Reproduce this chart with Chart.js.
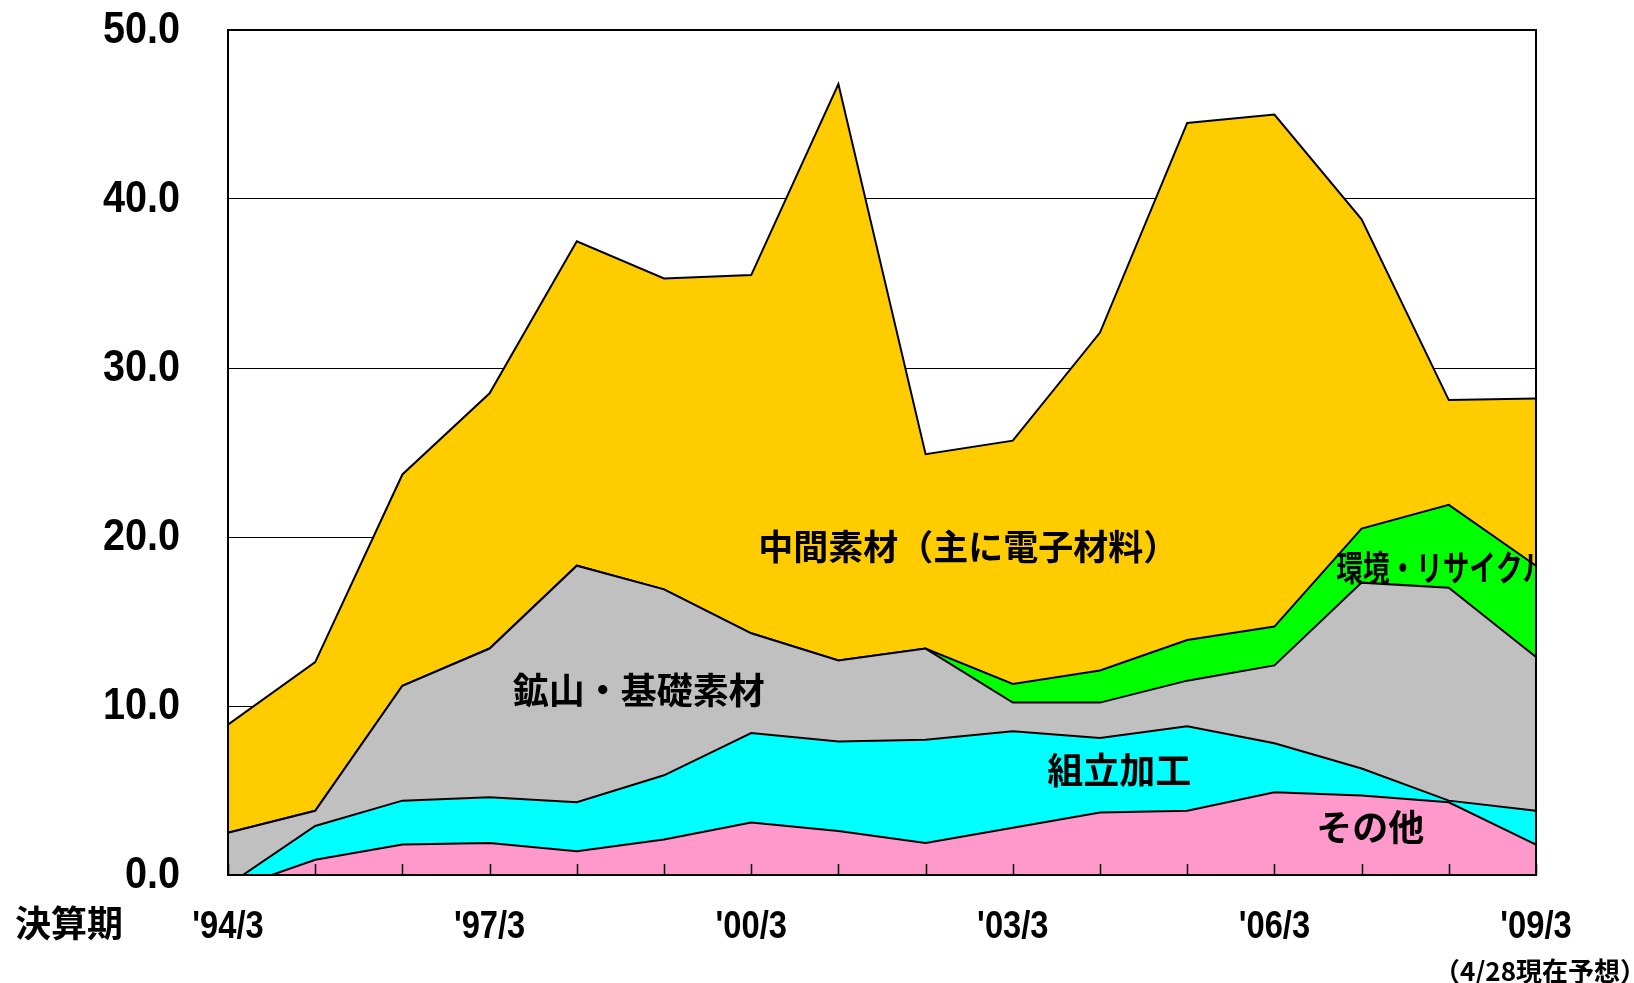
<!DOCTYPE html>
<html lang="ja">
<head>
<meta charset="utf-8">
<title>決算期別推移</title>
<script src="https://cdn.jsdelivr.net/npm/chart.js@4.4.1/dist/chart.umd.min.js"></script>
<style>
html,body{margin:0;padding:0;background:#fff;}
#wrap{width:1634px;height:983px;}
</style>
</head>
<body>
<div id="wrap"><canvas id="c" width="1634" height="983"></canvas></div>
<script>
// 決算期 ('94/3 .. '09/3), only every third one is labelled
const periods=["'94/3","'95/3","'96/3","'97/3","'98/3","'99/3","'00/3","'01/3","'02/3","'03/3","'04/3","'05/3","'06/3","'07/3","'08/3","'09/3"];
const yTicks=[0,10,20,30,40,50];

// series, stacked bottom to top
const other   =[-0.9,0.9,1.8,1.9,1.4,2.1,3.1,2.6,1.9,2.8,3.7,3.8,4.9,4.7,4.3,1.8];   // その他
const assembly=[0.3,2.0,2.6,2.7,2.9,3.8,5.3,5.3,6.1,5.7,4.4,5.0,2.9,1.6,0.1,2.0];     // 組立加工
const mining  =[3.1,0.9,6.8,8.8,14.0,11.0,5.9,4.8,5.4,1.7,2.1,2.7,4.6,11.0,12.6,9.1]; // 鉱山・基礎素材
const recycle =[0,0,0,0,0,0,0,0,0,1.1,1.9,2.4,2.3,3.2,4.9,5.4];                     // 環境・リサイクル
const interm  =[6.4,8.8,12.5,15.1,19.2,18.4,21.2,34.1,11.5,14.4,20.0,30.6,30.3,18.3,6.2,9.9]; // 中間素材

const NUM="'Liberation Sans',Arial,sans-serif";
const JP="'Noto Sans CJK JP','Noto Sans JP',sans-serif";

function ds(label,data,color,fill){
  return {label,data,backgroundColor:color,borderColor:'#000',borderWidth:2,fill,
    pointRadius:0,tension:0};
}

// narrow bold numerals like the original
function narrowText(ctx,t,px,py,align,size,sx){
  ctx.save();
  ctx.font=`bold ${size}px ${NUM}`;ctx.textAlign=align;ctx.textBaseline='middle';
  ctx.translate(px,py);ctx.scale(sx,1);ctx.fillText(t,0,0);
  ctx.restore();
}

const overlay={
  id:'overlay',
  afterDatasetsDraw(chart){
    const {ctx,chartArea:a,scales:{x,y}}=chart;
    ctx.save();
    // tick marks inside the plot
    ctx.strokeStyle='#000';ctx.lineWidth=1.5;
    ctx.beginPath();
    periods.forEach((p,i)=>{const px=Math.round(x.getPixelForValue(i))+0.5;ctx.moveTo(px,a.bottom);ctx.lineTo(px,a.bottom-11);});
    ctx.stroke();
    ctx.lineWidth=2;
    ctx.strokeRect(a.left,a.top,a.width,a.height);
    // area names
    ctx.beginPath();ctx.rect(a.left,a.top,a.width,a.height);ctx.clip();
    ctx.fillStyle='#000';ctx.textBaseline='middle';ctx.textAlign='center';
    const put=(t,i,v,size)=>{ctx.font=`bold ${size}px ${JP}`;ctx.fillText(t,x.getPixelForValue(i),y.getPixelForValue(v));};
    put('中間素材（主に電子材料）',8.49,19.4,35);
    put('鉱山・基礎素材',4.71,10.9,36);
    put('組立加工',10.22,6.2,36);
    put('その他',13.1,2.8,36);
    ctx.font=`bold 35px ${JP}`;ctx.textAlign='left';
    ctx.translate(x.getPixelForValue(12.71),y.getPixelForValue(18.2));
    ctx.scale(0.76,1);
    ctx.fillText('環境・リサイクル',0,0);
    ctx.restore();
  },
  afterDraw(chart){
    const {ctx,scales:{x,y}}=chart;
    ctx.save();
    ctx.fillStyle='#000';
    yTicks.forEach(v=>narrowText(ctx,v.toFixed(1),180,y.getPixelForValue(v)+1,'right',44,0.9));
    periods.forEach((p,i)=>{if(i%3===0)narrowText(ctx,p,x.getPixelForValue(i),928,'center',38,0.86);});
    ctx.textBaseline='middle';ctx.textAlign='center';
    ctx.font=`bold 36px ${JP}`;
    ctx.fillText('決算期',69,923);
    ctx.font=`bold 26px ${JP}`;ctx.textAlign='right';
    ctx.fillText('（4/28現在予想）',1646,971);
    ctx.restore();
  }
};

new Chart(document.getElementById('c'),{
  type:'line',
  data:{labels:periods,datasets:[
    ds('その他',other,'#ff99cc','origin'),
    ds('組立加工',assembly,'#00ffff','-1'),
    ds('鉱山・基礎素材',mining,'#c0c0c0','-1'),
    ds('環境・リサイクル',recycle,'#00ff00','-1'),
    ds('中間素材（主に電子材料）',interm,'#ffcc00','-1')
  ]},
  options:{
    responsive:false,animation:false,
    layout:{padding:{top:30,right:98,left:0,bottom:0}},
    plugins:{legend:{display:false},tooltip:{enabled:false}},
    scales:{
      x:{offset:false,
        grid:{display:false,drawTicks:false},border:{display:false},
        ticks:{display:false,autoSkip:false},
        afterFit:s=>{s.height=108;s.paddingLeft=0;s.paddingRight=0;}},
      y:{stacked:'single',min:0,max:50,
        afterBuildTicks:s=>{s.ticks=yTicks.map(v=>({value:v}));},
        grid:{color:'#000',lineWidth:1,drawTicks:false},border:{display:false},
        ticks:{display:false},
        afterFit:s=>{s.width=228;s.paddingTop=0;s.paddingBottom=0;}}
    }
  },
  plugins:[overlay]
});
</script>
</body>
</html>
